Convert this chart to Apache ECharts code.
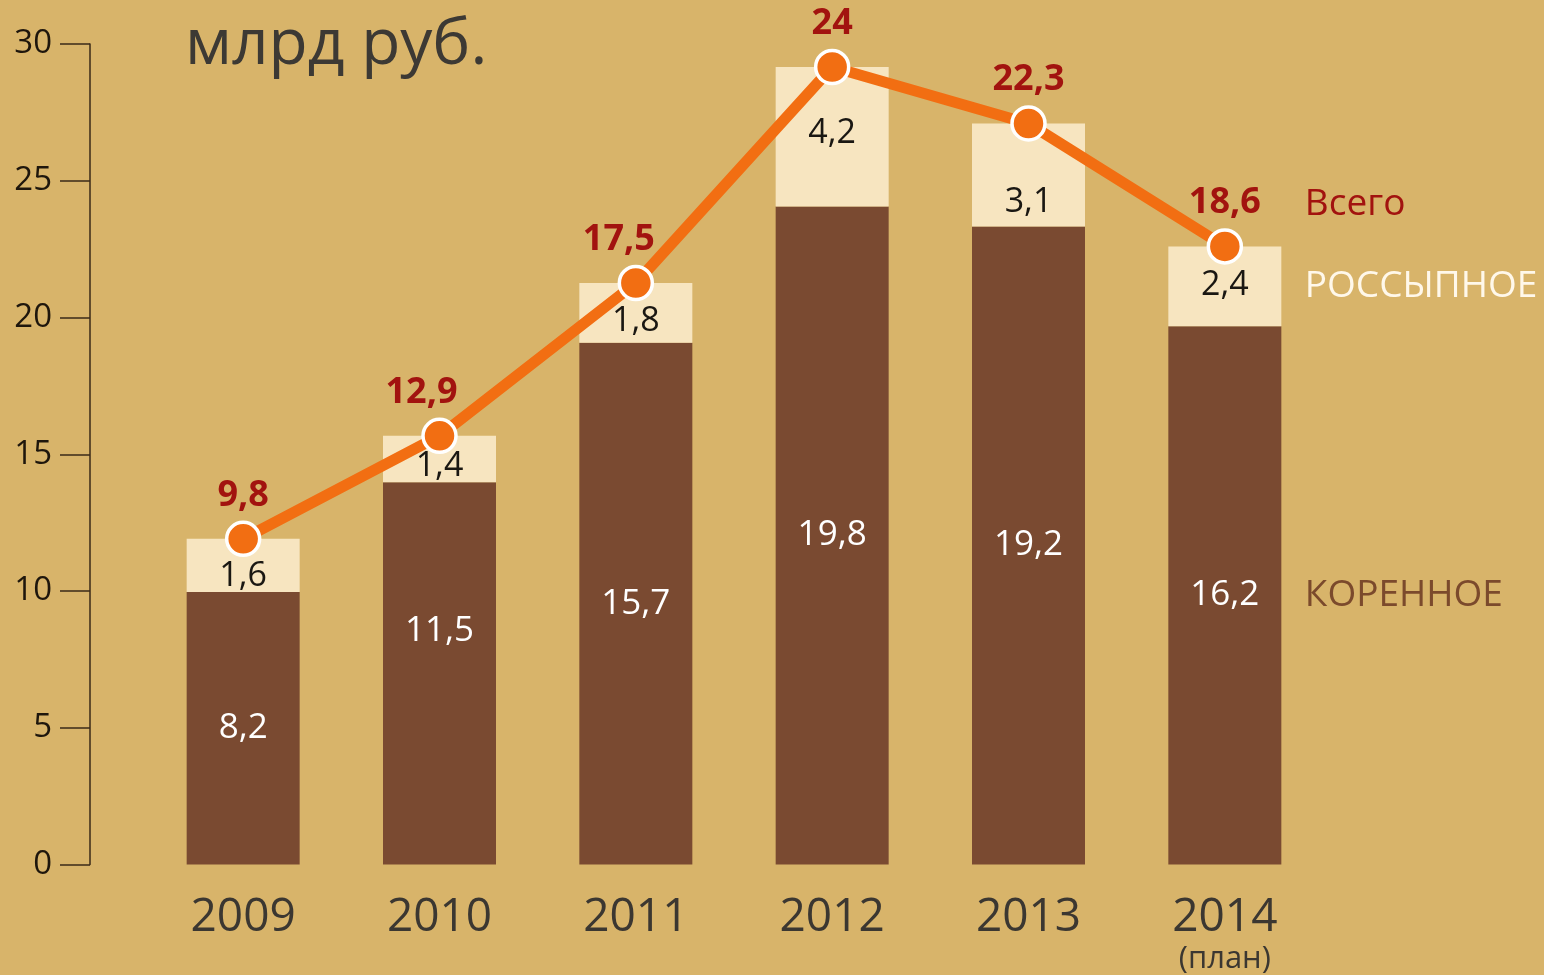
<!DOCTYPE html>
<html>
<head>
<meta charset="utf-8">
<script src="https://cdn.jsdelivr.net/npm/echarts@6/dist/echarts.min.js"></script>
<style>
html,body{margin:0;padding:0;background:#D8B46A;}
#c{width:1544px;height:975px;}
</style>
</head>
<body>
<div id="c"></div>
<script>
// ---- data ----
const years = ['2009', '2010', '2011', '2012', '2013', '2014'];
const korennoe = [8.2, 11.5, 15.7, 19.8, 19.2, 16.2];     // bedrock (brown)
const rossypnoe = [1.6, 1.4, 1.8, 4.2, 3.1, 2.4];        // placer (cream)
const vsego = [9.8, 12.9, 17.5, 24, 22.3, 18.6];         // total (line)
const yTickLabels = ['0', '5', '10', '15', '20', '25', '30'];
const planNote = '(план)';

// The original drawing's axis scale: tick "30" sits where value ≈ 24.7
const AXIS_SCALE = 1.215;
const yMax = 30 / AXIS_SCALE;
const yInterval = yMax / 6;

// label nudges (style only)
const creamLabelDy = [11, 7, 8, -3, 27, -1];
const brownLabelDy = [0, -42, 0, 0, 0, 0];
const lineLabelDx = [0, -18, -17, 0, 0, 0];

const FONT = '"Open Sans", "Noto Sans", sans-serif';
const fmt = v => String(v).replace('.', ',');
const last = years.length - 1;

const chart = echarts.init(document.getElementById('c'), null, {renderer: 'canvas'});

const option = {
  backgroundColor: '#D8B46A',
  animation: false,
  textStyle: {fontFamily: FONT},
  title: {
    text: 'млрд руб.',
    left: 180, top: 9,
    textStyle: {fontFamily: FONT, fontSize: 64, fontWeight: 'normal', color: '#3C3934'}
  },
  grid: {left: 145, right: 221, top: 44, bottom: 110},
  xAxis: {
    type: 'category',
    data: years,
    axisLine: {show: false},
    axisTick: {show: false},
    axisLabel: {
      interval: 0,
      margin: 30,
      fontFamily: FONT,
      fontSize: 46,
      color: '#3B3731',
      verticalAlign: 'top',
      formatter: (v, i) => i === last ? v + '\n{s|' + planNote + '}' : v,
      rich: {
        s: {fontFamily: FONT, fontSize: 31, color: '#3B3731', lineHeight: 38}
      }
    }
  },
  yAxis: {
    type: 'value',
    min: 0,
    max: yMax,
    interval: yInterval,
    offset: 55,
    splitLine: {show: false},
    axisLine: {show: true, lineStyle: {color: '#3A2A18', width: 1.5}},
    axisTick: {show: true, length: 30, lineStyle: {color: '#3A2A18', width: 1.5}},
    axisLabel: {
      margin: 38,
      fontFamily: FONT,
      fontSize: 33,
      color: '#1E160C',
      formatter: (v, i) => yTickLabels[i] !== undefined ? yTickLabels[i] : ''
    }
  },
  series: [
    {
      name: 'КОРЕННОЕ',
      type: 'bar',
      stack: 'total',
      barWidth: 113,
      itemStyle: {color: '#7A4A31'},
      data: korennoe.map((v, i) => ({
        value: v,
        label: {offset: [0, brownLabelDy[i]]}
      })),
      label: {
        show: true,
        position: 'inside',
        fontFamily: FONT,
        fontSize: 35,
        color: '#FFFFFF',
        formatter: p => fmt(p.value)
      },
      markPoint: {
        symbol: 'circle',
        symbolSize: 1,
        itemStyle: {color: 'rgba(0,0,0,0)'},
        label: {
          show: true, position: 'inside', align: 'left', offset: [80, 0],
          fontFamily: FONT, fontSize: 37, color: '#7B4A2C',
          formatter: 'КОРЕННОЕ'
        },
        data: [{coord: [years[last], korennoe[last] / 2]}]
      }
    },
    {
      name: 'РОССЫПНОЕ',
      type: 'bar',
      stack: 'total',
      barWidth: 113,
      itemStyle: {color: '#F7E5C0'},
      data: rossypnoe.map((v, i) => ({
        value: v,
        label: {offset: [0, creamLabelDy[i]]}
      })),
      label: {
        show: true,
        position: 'inside',
        fontFamily: FONT,
        fontSize: 34,
        color: '#1A1712',
        formatter: p => fmt(p.value)
      },
      markPoint: {
        symbol: 'circle',
        symbolSize: 1,
        itemStyle: {color: 'rgba(0,0,0,0)'},
        label: {
          show: true, position: 'inside', align: 'left', offset: [80, 0],
          fontFamily: FONT, fontSize: 37, color: '#FFF8EA',
          formatter: 'РОССЫПНОЕ'
        },
        data: [{coord: [years[last], korennoe[last] + rossypnoe[last] / 2]}]
      }
    },
    {
      name: 'Всего',
      type: 'line',
      z: 5,
      data: vsego.map((v, i) => ({
        value: v,
        label: {offset: [lineLabelDx[i], 0]}
      })),
      lineStyle: {color: '#F26E12', width: 11},
      symbol: 'circle',
      symbolSize: 33,
      itemStyle: {color: '#F26E12', borderColor: '#FFFFFF', borderWidth: 3.5},
      label: {
        show: true,
        position: 'top',
        distance: 7,
        fontFamily: FONT,
        fontSize: 36,
        fontWeight: 'bold',
        color: '#A2130F',
        formatter: p => fmt(p.value)
      },
      markPoint: {
        symbol: 'circle',
        symbolSize: 1,
        itemStyle: {color: 'rgba(0,0,0,0)'},
        label: {
          show: true, position: 'inside', align: 'left', offset: [80, -42],
          fontFamily: FONT, fontSize: 37, color: '#A2130F',
          formatter: 'Всего'
        },
        data: [{coord: [years[last], vsego[last]]}]
      }
    }
  ]
};
chart.setOption(option);
</script>
</body>
</html>
